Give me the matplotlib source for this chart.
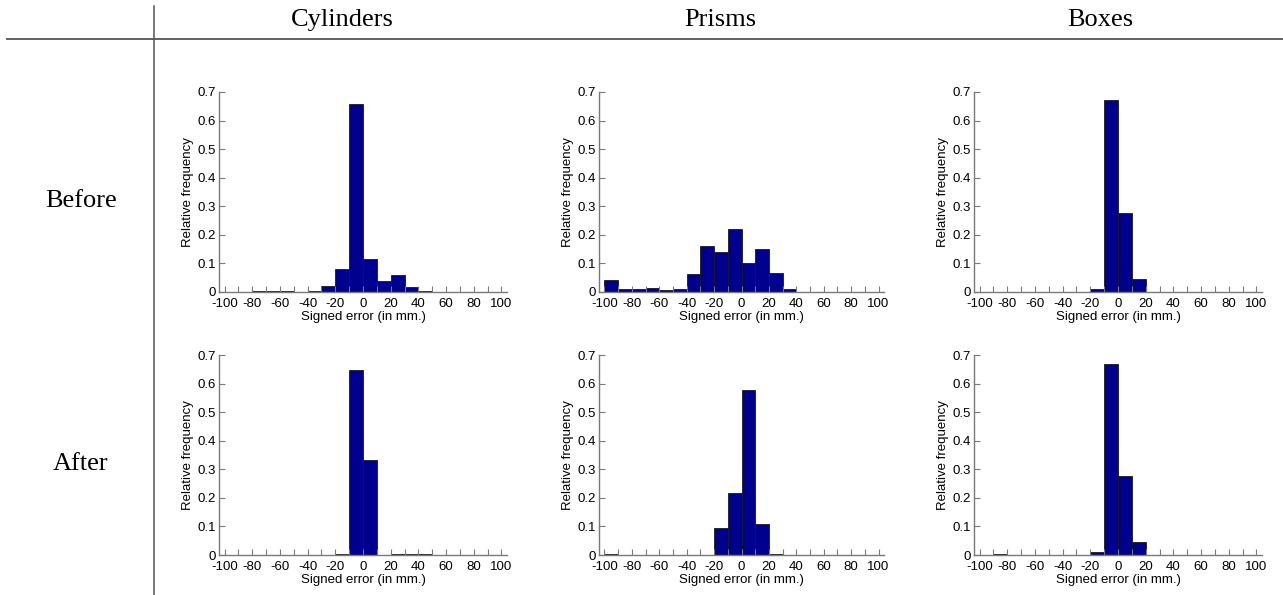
import matplotlib
matplotlib.use("Agg")
import matplotlib.pyplot as plt
from matplotlib.lines import Line2D
import numpy as np

bin_centers = [-95, -85, -75, -65, -55, -45, -35, -25, -15, -5,
               5, 15, 25, 35, 45, 55, 65, 75, 85, 95]

cyl_before = [0, 0, 0.002, 0.004, 0.002, 0, 0.002, 0.022, 0.082, 0.657,
              0.115, 0.040, 0.058, 0.018, 0.005, 0, 0, 0, 0, 0]
pri_before = [0.042, 0.009, 0.012, 0.015, 0.007, 0.012, 0.062, 0.162, 0.140, 0.220,
              0.100, 0.152, 0.068, 0.010, 0, 0, 0, 0, 0, 0]
box_before = [0, 0, 0, 0, 0, 0, 0, 0, 0.010, 0.672,
              0.276, 0.045, 0, 0, 0, 0, 0, 0, 0, 0]
cyl_after = [0, 0, 0, 0, 0, 0, 0, 0, 0.005, 0.648,
             0.333, 0, 0.005, 0.005, 0.005, 0, 0, 0, 0, 0]
pri_after = [0.005, 0, 0, 0, 0, 0, 0, 0, 0.093, 0.218,
             0.578, 0.108, 0.004, 0, 0, 0, 0, 0, 0, 0]
box_after = [0, 0.005, 0, 0, 0, 0, 0, 0, 0.012, 0.668,
             0.276, 0.045, 0, 0, 0, 0, 0, 0, 0, 0]

col_titles = ["Cylinders", "Prisms", "Boxes"]
row_titles = ["Before", "After"]
data = [[cyl_before, pri_before, box_before],
        [cyl_after, pri_after, box_after]]

W, H = 1283, 595
fig = plt.figure(figsize=(W / 100, H / 100), dpi=100)

col_px = [(219, 507), (599, 884), (974, 1262)]
row_px = [(92, 292), (355, 555)]
col_title_x = [342, 720, 1100]
row_title_y = [201, 464]

sans = "Liberation Sans"
serif = "Liberation Serif"
axis_gray = "#7a7a7a"

for r, (yt, yb) in enumerate(row_px):
    for c, (xl, xr) in enumerate(col_px):
        ax = fig.add_axes([xl / W, 1 - yb / H, (xr - xl) / W, (yb - yt) / H])
        ax.bar(bin_centers, data[r][c], width=10, color="#00008f",
               edgecolor="#1a1a1a", linewidth=0.6)
        ax.set_xlim(-104, 104)
        ax.set_ylim(0, 0.7)
        ax.set_xticks(np.arange(-100, 101, 20))
        ax.set_xticks(np.arange(-90, 100, 20), minor=True)
        ax.set_xticklabels([str(v) for v in range(-100, 101, 20)])
        ax.set_yticks(np.arange(0, 0.71, 0.1))
        ax.set_yticklabels(["0"] + ["%.1f" % v for v in np.arange(0.1, 0.71, 0.1)])
        ax.tick_params(direction="in", length=4, width=0.8, labelsize=9.5,
                       color=axis_gray, labelcolor="black")
        ax.tick_params(axis="x", pad=4)
        ax.tick_params(axis="y", pad=2)
        ax.tick_params(which="minor", direction="in", length=4, width=0.8,
                       color=axis_gray)
        for lab in ax.get_xticklabels():
            lab.set_fontfamily(sans)
        for lab in ax.get_yticklabels():
            lab.set_fontfamily(sans)
            lab.set_verticalalignment("center_baseline")
        for s in ["top", "right"]:
            ax.spines[s].set_visible(False)
        for s in ["left", "bottom"]:
            ax.spines[s].set_linewidth(1.0)
            ax.spines[s].set_color(axis_gray)
        ax.set_xlabel("Signed error (in mm.)", fontsize=9.5, fontfamily=sans, labelpad=1)
        ax.set_ylabel("Relative frequency", fontsize=9.5, fontfamily=sans, labelpad=3)

# header lines
fig.add_artist(Line2D([7 / W, 1.0], [1 - 39 / H, 1 - 39 / H],
                      transform=fig.transFigure, color="#555555", linewidth=1.3))
fig.add_artist(Line2D([154 / W, 154 / W], [1 - 6 / H, 0.0],
                      transform=fig.transFigure, color="#555555", linewidth=1.1))

for cx, t in zip(col_title_x, col_titles):
    fig.text(cx / W, 1 - 20 / H, t, ha="center", va="center",
             fontsize=19, fontfamily=serif)
for cy, t in zip(row_title_y, row_titles):
    fig.text(81 / W, 1 - cy / H, t, ha="center", va="center",
             fontsize=19, fontfamily=serif)

fig.savefig("out.png", dpi=100)
